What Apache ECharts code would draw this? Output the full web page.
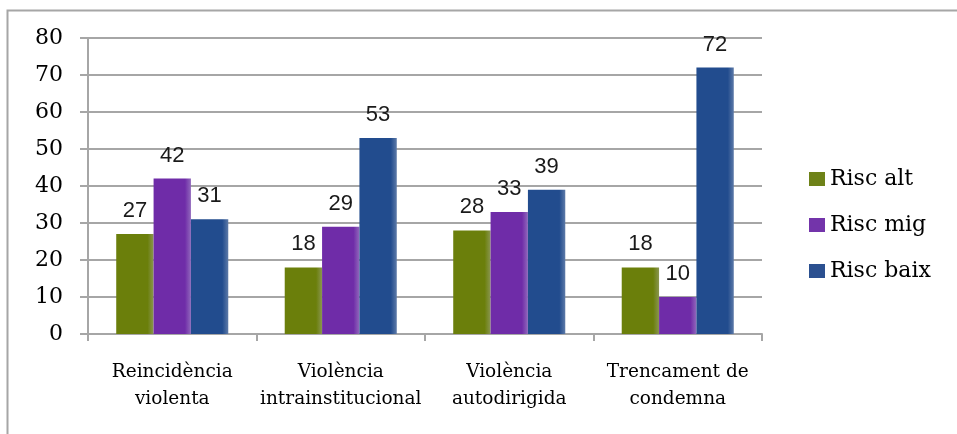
<!DOCTYPE html>
<html><head><meta charset="utf-8">
<script src="https://cdn.jsdelivr.net/npm/echarts@6/dist/echarts.min.js"></script>
<style>html,body{margin:0;padding:0;background:#fff}#c{width:957px;height:434px}</style>
</head><body><div id="c"></div>
<script>
const categories = ['Reincidència\nviolenta', 'Violència\nintrainstitucional', 'Violència\nautodirigida', 'Trencament de\ncondemna'];
const seriesNames = ['Risc alt', 'Risc mig', 'Risc baix'];
const riscAlt = [27, 18, 28, 18];
const riscMig = [42, 29, 33, 10];
const riscBaix = [31, 53, 39, 72];
const yTicks = [0, 80, 10];

function grad(c1, c2) {
  return new echarts.graphic.LinearGradient(0, 0, 1, 0, [
    {offset: 0, color: c1}, {offset: 0.84, color: c1}, {offset: 1, color: c2}
  ]);
}
const colors = [grad('#6B7F0B', '#8A9650'), grad('#6F2CA8', '#9168BC'), grad('#224C8E', '#5D7AA8')];
const legendColors = ['#6E8218', '#7334AA', '#2B5090'];
const dataSets = [riscAlt, riscMig, riscBaix];

const chart = echarts.init(document.getElementById('c'), null, {renderer: 'canvas'});
chart.setOption({
  animation: false,
  graphic: [{type: 'rect', left: 5, top: 8, shape: {width: 1000, height: 500}, style: {fill: 'none', stroke: '#A6A6A6', lineWidth: 2}}],
  grid: {left: 88, right: 195, top: 38, bottom: 100},
  legend: {
    orient: 'vertical', left: 804, top: 163, itemWidth: 16, itemHeight: 14, itemGap: 24,
    icon: 'rect',
    textStyle: {fontFamily: 'DejaVu Serif', fontSize: 22, color: '#000'},
    data: seriesNames.map((n, i) => ({name: n, itemStyle: {color: legendColors[i]}}))
  },
  xAxis: {
    type: 'category', data: categories,
    axisLine: {lineStyle: {color: '#A6A6A6', width: 2}},
    axisTick: {show: true, length: 7, lineStyle: {color: '#A6A6A6', width: 2}},
    axisLabel: {fontFamily: 'DejaVu Serif', fontSize: 18.5, color: '#000', lineHeight: 27, margin: 25, interval: 0}
  },
  yAxis: {
    type: 'value', min: yTicks[0], max: yTicks[1], interval: yTicks[2],
    axisLine: {show: true, lineStyle: {color: '#A6A6A6', width: 2}},
    axisTick: {show: true, length: 8, lineStyle: {color: '#A6A6A6', width: 2}},
    splitLine: {lineStyle: {color: '#A6A6A6', width: 2}},
    axisLabel: {fontFamily: 'DejaVu Serif', fontSize: 22, color: '#000', margin: 25}
  },
  series: dataSets.map((d, i) => ({
    name: seriesNames[i], type: 'bar', data: d,
    barGap: '0%', barCategoryGap: '33.5%',
    itemStyle: {color: colors[i]},
    label: {show: true, position: 'top', distance: 12, fontFamily: 'Liberation Sans', fontSize: 22, color: '#1a1a1a'}
  }))
});
</script></body></html>
